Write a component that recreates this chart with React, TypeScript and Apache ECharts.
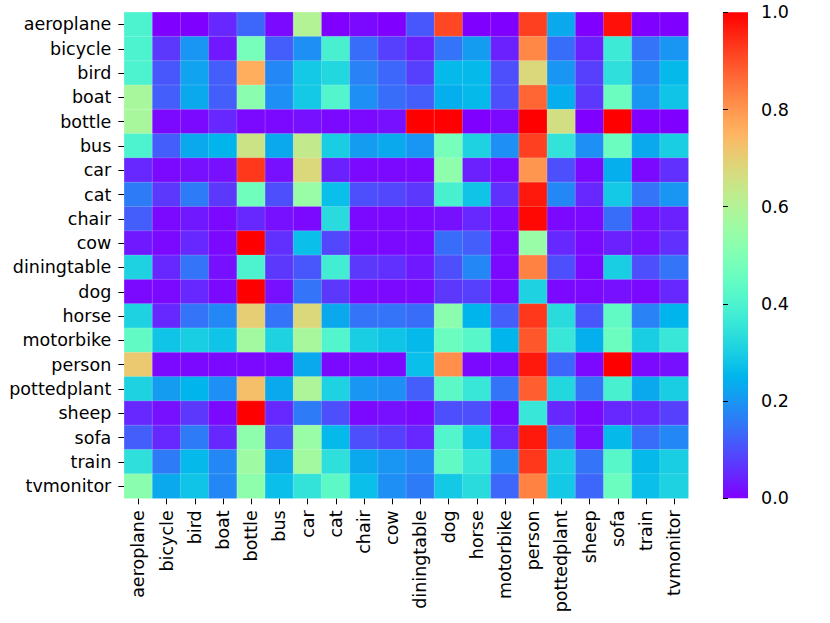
import React, { useEffect, useRef } from "react";
import * as echarts from "echarts";

const categories = [
  "aeroplane", "bicycle", "bird", "boat", "bottle", "bus", "car", "cat", "chair", "cow",
  "diningtable", "dog", "horse", "motorbike", "person", "pottedplant", "sheep", "sofa", "train", "tvmonitor",
];

const aeroplaneRow = [0.40, 0.00, 0.00, 0.05, 0.13, 0.01, 0.60, 0.00, 0.01, 0.00, 0.11, 0.91, 0.00, 0.00, 0.92, 0.23, 0.00, 0.98, 0.00, 0.00];
const bicycleRow = [0.40, 0.07, 0.20, 0.03, 0.48, 0.12, 0.19, 0.39, 0.14, 0.08, 0.04, 0.15, 0.21, 0.04, 0.82, 0.14, 0.04, 0.37, 0.15, 0.20];
const birdRow = [0.40, 0.11, 0.22, 0.12, 0.76, 0.18, 0.29, 0.32, 0.17, 0.13, 0.08, 0.26, 0.26, 0.10, 0.68, 0.20, 0.08, 0.34, 0.18, 0.26];
const boatRow = [0.58, 0.12, 0.23, 0.12, 0.52, 0.19, 0.29, 0.41, 0.19, 0.14, 0.12, 0.24, 0.26, 0.10, 0.87, 0.24, 0.07, 0.46, 0.20, 0.28];
const bottleRow = [0.58, 0.01, 0.01, 0.05, 0.01, 0.01, 0.02, 0.01, 0.01, 0.02, 1.00, 1.00, 0.00, 0.01, 1.00, 0.66, 0.00, 1.00, 0.00, 0.00];
const busRow = [0.40, 0.12, 0.23, 0.25, 0.65, 0.23, 0.63, 0.30, 0.21, 0.23, 0.20, 0.48, 0.31, 0.19, 0.92, 0.35, 0.19, 0.46, 0.23, 0.30];
const carRow = [0.05, 0.01, 0.02, 0.02, 0.93, 0.02, 0.68, 0.04, 0.01, 0.01, 0.01, 0.53, 0.04, 0.01, 0.80, 0.10, 0.01, 0.24, 0.01, 0.06];
const catRow = [0.16, 0.07, 0.16, 0.07, 0.47, 0.10, 0.55, 0.27, 0.10, 0.09, 0.07, 0.39, 0.28, 0.06, 0.97, 0.18, 0.05, 0.29, 0.15, 0.20];
const chairRow = [0.12, 0.01, 0.03, 0.01, 0.05, 0.02, 0.01, 0.33, 0.01, 0.01, 0.01, 0.02, 0.05, 0.01, 0.99, 0.01, 0.01, 0.14, 0.02, 0.04];
const cowRow = [0.03, 0.01, 0.05, 0.01, 1.00, 0.06, 0.27, 0.09, 0.01, 0.01, 0.01, 0.14, 0.12, 0.01, 0.55, 0.05, 0.01, 0.04, 0.02, 0.06];
const diningtableRow = [0.31, 0.05, 0.15, 0.02, 0.40, 0.07, 0.11, 0.38, 0.07, 0.06, 0.03, 0.10, 0.18, 0.01, 0.83, 0.10, 0.01, 0.30, 0.10, 0.15];
const dogRow = [0.01, 0.01, 0.05, 0.01, 1.00, 0.02, 0.15, 0.07, 0.01, 0.01, 0.01, 0.07, 0.08, 0.01, 0.31, 0.01, 0.01, 0.02, 0.01, 0.05];
const horseRow = [0.31, 0.05, 0.15, 0.18, 0.70, 0.15, 0.68, 0.23, 0.15, 0.15, 0.14, 0.52, 0.25, 0.12, 0.93, 0.33, 0.11, 0.44, 0.17, 0.25];
const motorbikeRow = [0.44, 0.28, 0.30, 0.28, 0.57, 0.31, 0.58, 0.41, 0.30, 0.28, 0.26, 0.46, 0.42, 0.25, 0.89, 0.36, 0.24, 0.46, 0.30, 0.36];
const personRow = [0.71, 0.01, 0.01, 0.01, 0.01, 0.01, 0.23, 0.01, 0.01, 0.01, 0.27, 0.81, 0.01, 0.01, 0.97, 0.13, 0.01, 1.00, 0.01, 0.02];
const pottedplantRow = [0.31, 0.21, 0.25, 0.19, 0.73, 0.23, 0.59, 0.31, 0.20, 0.19, 0.12, 0.43, 0.36, 0.15, 0.88, 0.32, 0.15, 0.39, 0.23, 0.30];
const sheepRow = [0.05, 0.02, 0.07, 0.01, 1.00, 0.05, 0.16, 0.10, 0.01, 0.02, 0.01, 0.10, 0.10, 0.01, 0.36, 0.05, 0.01, 0.05, 0.05, 0.08];
const sofaRow = [0.12, 0.05, 0.16, 0.05, 0.53, 0.10, 0.55, 0.26, 0.10, 0.08, 0.05, 0.41, 0.29, 0.05, 0.97, 0.16, 0.02, 0.26, 0.14, 0.18];
const trainRow = [0.34, 0.16, 0.26, 0.18, 0.56, 0.23, 0.57, 0.34, 0.23, 0.20, 0.18, 0.44, 0.36, 0.18, 0.93, 0.30, 0.15, 0.42, 0.26, 0.30];
const tvmonitorRow = [0.52, 0.23, 0.28, 0.18, 0.53, 0.27, 0.35, 0.43, 0.27, 0.19, 0.16, 0.29, 0.33, 0.13, 0.83, 0.29, 0.13, 0.46, 0.27, 0.31];

const rows = [
  aeroplaneRow, bicycleRow, birdRow, boatRow, bottleRow, busRow, carRow, catRow, chairRow, cowRow,
  diningtableRow, dogRow, horseRow, motorbikeRow, personRow, pottedplantRow, sheepRow, sofaRow, trainRow, tvmonitorRow,
];

const colorbarTicks = [0, 0.2, 0.4, 0.6, 0.8, 1.0];

// matplotlib "rainbow" colormap
function rainbow(x: number): string {
  const r = Math.min(1, Math.abs(2 * x - 0.5));
  const g = Math.sin(Math.PI * x);
  const b = Math.cos((Math.PI * x) / 2);
  const to = (v: number) => Math.round(Math.max(0, Math.min(1, v)) * 255);
  return `rgb(${to(r)},${to(g)},${to(b)})`;
}

const N_STOPS = 40;
const rampColors: string[] = [];
for (let i = 0; i <= N_STOPS; i++) rampColors.push(rainbow(i / N_STOPS));

const FONT = "DejaVu Sans";
const FS = 17.5;

export default function App() {
  const ref = useRef<HTMLDivElement>(null);
  useEffect(() => {
    if (!ref.current) return;
    const chart = echarts.init(ref.current, undefined, { renderer: "svg" });
    const data: [number, number, number][] = [];
    rows.forEach((row, yi) => row.forEach((v, xi) => data.push([xi, yi, v])));

    const gL = 124.3, gT = 12.3, gW = 564, gH = 486;
    const cbL = 723, cbW = 25;

    chart.setOption({
      animation: false,
      backgroundColor: "#fff",
      textStyle: { fontFamily: FONT },
      grid: [
        { left: gL, top: gT, width: gW, height: gH },
        { left: cbL, top: gT, width: cbW, height: gH },
      ],
      xAxis: [
        {
          type: "category",
          data: categories,
          gridIndex: 0,
          axisLine: { show: false },
          axisTick: { show: true, length: 6, lineStyle: { color: "#000", width: 1 }, alignWithLabel: true },
          axisLabel: { rotate: 90, margin: 12, color: "#000", fontSize: FS, fontFamily: FONT, interval: 0 },
          splitLine: { show: false },
        },
        { type: "value", gridIndex: 1, show: false, min: 0, max: 1 },
      ],
      yAxis: [
        {
          type: "category",
          data: categories,
          inverse: true,
          gridIndex: 0,
          axisLine: { show: false },
          axisTick: { show: true, length: 6, lineStyle: { color: "#000", width: 1 }, alignWithLabel: true },
          axisLabel: { margin: 13, color: "#000", fontSize: FS, fontFamily: FONT, interval: 0 },
          splitLine: { show: false },
        },
        {
          type: "value",
          gridIndex: 1,
          position: "right",
          min: 0,
          max: 1,
          interval: 0.2,
          axisLine: { show: false },
          axisTick: { show: true, length: 5, lineStyle: { color: "#000", width: 1 } },
          axisLabel: {
            margin: 13,
            color: "#000",
            fontSize: FS,
            fontFamily: FONT,
            formatter: (v: number) => (colorbarTicks.some((t) => Math.abs(t - v) < 1e-9) ? v.toFixed(1) : ""),
          },
          splitLine: { show: false },
        },
      ],
      visualMap: {
        show: false,
        min: 0,
        max: 1,
        seriesIndex: 0,
        dimension: 2,
        inRange: { color: rampColors },
      },
      graphic: [
        {
          type: "rect",
          shape: { x: cbL, y: gT, width: cbW, height: gH },
          style: {
            fill: new echarts.graphic.LinearGradient(
              0, 1, 0, 0,
              rampColors.map((c, i) => ({ offset: i / N_STOPS, color: c }))
            ),
          },
          z: 0,
        },
      ],
      series: [
        {
          type: "heatmap",
          xAxisIndex: 0,
          yAxisIndex: 0,
          data,
          itemStyle: { borderColor: "rgba(255,255,255,0.3)", borderWidth: 0.6 },
          emphasis: { disabled: true },
        },
      ],
    });
    return () => chart.dispose();
  }, []);
  return <div ref={ref} style={{ position: "fixed", left: 0, top: 0, width: 830, height: 623 }} />;
}
